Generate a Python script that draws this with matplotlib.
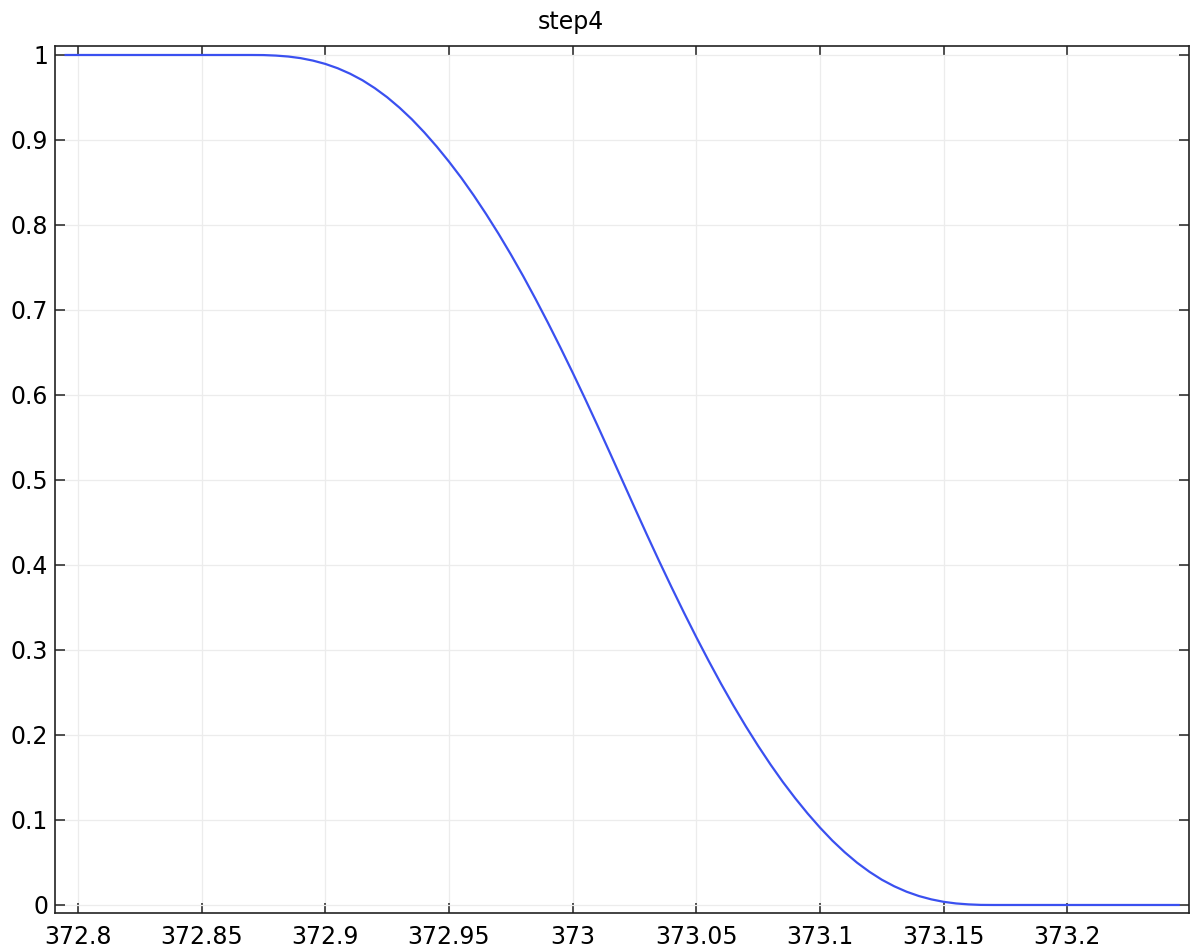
import matplotlib
matplotlib.use("Agg")
import matplotlib.pyplot as plt

# values
temp = [372.795, 372.83, 372.87, 372.875, 372.88, 372.885, 372.89, 372.895,
        372.9, 372.905, 372.91, 372.915, 372.92, 372.925, 372.93, 372.935,
        372.94, 372.945, 372.95, 372.955, 372.96, 372.965, 372.97, 372.975,
        372.98, 372.985, 372.99, 372.995, 373.0, 373.005, 373.01, 373.015,
        373.02, 373.025, 373.03, 373.035, 373.04, 373.045, 373.05, 373.055,
        373.06, 373.065, 373.07, 373.075, 373.08, 373.085, 373.09, 373.095,
        373.1, 373.105, 373.11, 373.115, 373.12, 373.125, 373.13, 373.135,
        373.14, 373.145, 373.15, 373.155, 373.16, 373.165, 373.17, 373.21,
        373.245]
step = [1.0, 1.0, 1.0, 0.9999, 0.9993, 0.9982, 0.9963, 0.9934,
        0.9895, 0.9844, 0.978, 0.9703, 0.961, 0.9503, 0.938, 0.9243,
        0.909, 0.8924, 0.8745, 0.8554, 0.8348, 0.8129, 0.7898, 0.7654,
        0.7398, 0.7129, 0.685, 0.6561, 0.6263, 0.5957, 0.5643, 0.5323,
        0.5, 0.4677, 0.4357, 0.4043, 0.3737, 0.3439, 0.315, 0.2871,
        0.2602, 0.2346, 0.2102, 0.1871, 0.1652, 0.1446, 0.1255, 0.1076,
        0.091, 0.0757, 0.062, 0.0497, 0.039, 0.0297, 0.022, 0.0156,
        0.0105, 0.0066, 0.0037, 0.0018, 0.0007, 0.0001, 0.0, 0.0,
        0.0]

xticks = [372.8, 372.85, 372.9, 372.95, 373.0, 373.05, 373.1, 373.15, 373.2]
xlabels = ["372.8", "372.85", "372.9", "372.95", "373", "373.05", "373.1", "373.15", "373.2"]
yticks = [0, 0.1, 0.2, 0.3, 0.4, 0.5, 0.6, 0.7, 0.8, 0.9, 1]
ylabels = ["0", "0.1", "0.2", "0.3", "0.4", "0.5", "0.6", "0.7", "0.8", "0.9", "1"]

plt.rcParams['font.family'] = ['DejaVu Sans']

fig = plt.figure(figsize=(11.9, 9.52), dpi=100)
ax = fig.add_axes([0.0462, 0.041, 0.953, 0.9107])

ax.plot(temp, step, color="#3a50f0", lw=1.6)

ax.set_xlim(372.7907, 373.2492)
ax.set_ylim(-0.0094, 1.0106)
ax.set_xticks(xticks)
ax.set_xticklabels(xlabels)
ax.set_yticks(yticks)
ax.set_yticklabels(ylabels)

ax.grid(True, color="#ececec", lw=0.9)
ax.set_axisbelow(True)
ax.tick_params(direction="in", top=True, right=True, length=7.5, width=1.1,
               labelsize=17, color="#222222")
ax.tick_params(axis="x", pad=9)
ax.tick_params(axis="y", pad=5)
for s in ax.spines.values():
    s.set_linewidth(1.2)
    s.set_color("#222222")

fig.text(0.48, 1 - 22 / 952, "step4", ha="center", va="center", fontsize=17)

fig.savefig("out.png", dpi=100)
